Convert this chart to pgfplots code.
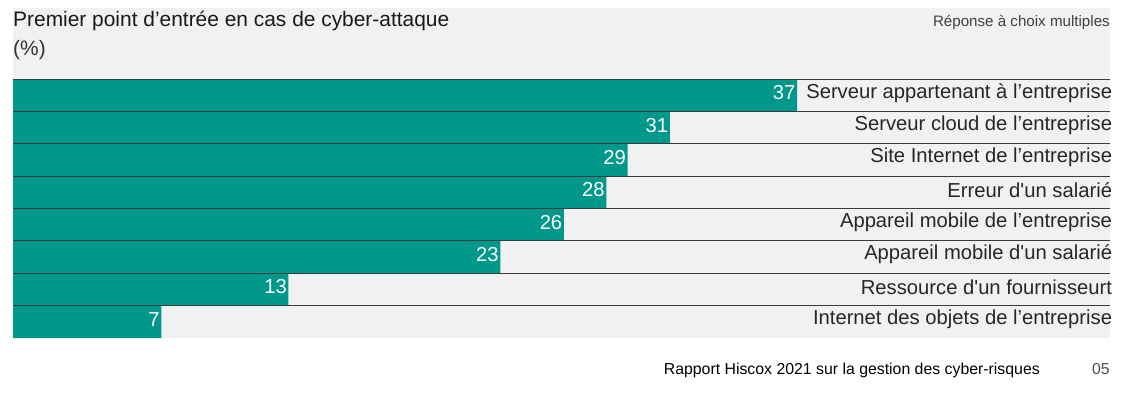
\documentclass[border=0pt]{standalone}
\usepackage{fontspec}
\setmainfont{Liberation Sans}
\usepackage{pgfplots}
\pgfplotsset{compat=1.18}
\definecolor{teal1}{RGB}{0,152,138}
\definecolor{panel}{RGB}{241,241,241}
\definecolor{sep}{RGB}{55,60,60}
\begin{document}
\begin{tikzpicture}[x=1bp,y=1bp]
\path[use as bounding box] (0,0) rectangle (1124,392);
\fill[panel] (13,54) rectangle (1110,384);
\node[anchor=base west, inner sep=0, font=\fontsize{21}{23}\selectfont, text=black!90] at (13,366) {Premier point d’entrée en cas de cyber-attaque};
\node[anchor=base west, inner sep=0, font=\fontsize{21}{23}\selectfont, text=black!80] at (13,337) {(\%)};
\node[anchor=base east, inner sep=0, font=\fontsize{15.2}{17}\selectfont, text=black!75] at (1110,366) {Réponse à choix multiples};
\node[anchor=base east, inner sep=0, font=\fontsize{15.9}{17}\selectfont] at (1040,18) {Rapport Hiscox 2021 sur la gestion des cyber-risques};
\node[anchor=base east, inner sep=0, font=\fontsize{15.9}{17}\selectfont, text=black!70] at (1110,18) {05};
\begin{axis}[
  at={(13bp,54bp)}, anchor=south west,
  scale only axis, width=1097bp, height=259bp,
  xmin=0, xmax=51.77, ymin=-0.5, ymax=7.5, y dir=reverse,
  xbar, bar width=1,
  axis line style={draw=none}, tick style={draw=none},
  xtick=\empty,
  ytick={0,1,2,3,4,5,6,7},
  yticklabels={Serveur appartenant à l’entreprise, Serveur cloud de l’entreprise, Site Internet de l’entreprise, Erreur d\textquotesingle un salarié, Appareil mobile de l’entreprise, Appareil mobile d\textquotesingle un salarié, Ressource d\textquotesingle un fournisseurt, Internet des objets de l’entreprise},
  yticklabel pos=right,
  yticklabel style={anchor=east, xshift=-2bp, yshift=2.5bp, inner sep=0pt, font=\fontsize{20.3}{22}\selectfont, text=black!85},
  /pgf/number format/assume math mode=true,
  nodes near coords,
  every node near coord/.append style={anchor=east, text=white, inner sep=0pt, xshift=-1.5bp, yshift=2.5bp, font=\fontsize{20.3}{22}\selectfont},
]
\addplot[fill=teal1, draw=none] coordinates {(37,0) (31,1) (29,2) (28,3) (26,4) (23,5) (13,6) (7,7)};
\pgfplotsinvokeforeach{-0.5,0.5,1.5,2.5,3.5,4.5,5.5,6.5}{
  \draw[sep, line width=1.1bp] (axis cs:0,#1) -- (axis cs:51.77,#1);
}
\end{axis}
\end{tikzpicture}
\end{document}
